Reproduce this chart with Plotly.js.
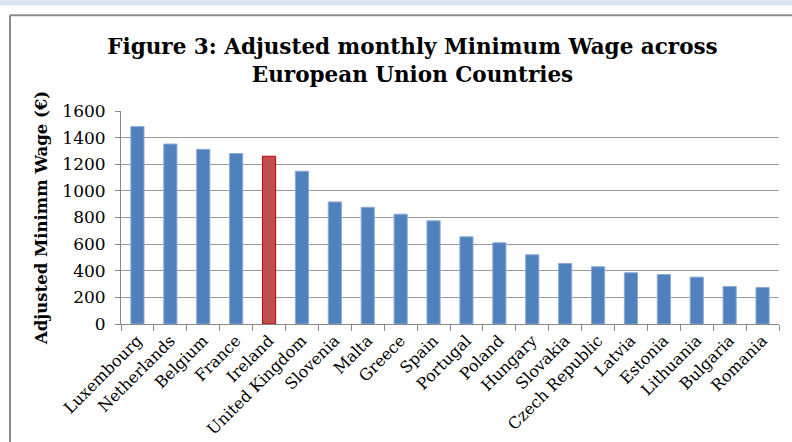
<!DOCTYPE html>
<html>
<head>
<meta charset="utf-8">
<script src="https://cdn.plot.ly/plotly-3.0.1.min.js"></script>
<style>html,body{margin:0;padding:0;background:#fff;}#chart{width:792px;height:442px;}</style>
</head>
<body>
<div id="chart"></div>
<script>
const countries = ["Luxembourg","Netherlands","Belgium","France","Ireland","United Kingdom","Slovenia","Malta","Greece","Spain","Portugal","Poland","Hungary","Slovakia","Czech Republic","Latvia","Estonia","Lithuania","Bulgaria","Romania"];
const wages = [1483,1352,1312,1280,1260,1148,917,877,825,775,655,610,520,455,430,385,372,352,282,275];
const highlight = "Ireland";
const yTicks = [0,200,400,600,800,1000,1200,1400,1600];

const fillColors = countries.map(c => c === highlight ? "#C0504D" : "#4F81BD");
const lineColors = countries.map(c => c === highlight ? "#C00000" : "#8EAADB");

const L = 121, R = 779;
const px = v => (v - L) / (R - L);
const T = 111, H = 213.5;
const py = v => 1 + (T - v) / H;

const trace = {
  type: "bar",
  x: countries,
  y: wages,
  marker: {color: fillColors, line: {color: lineColors, width: 1}},
  hoverinfo: "x+y"
};

const layout = {
  width: 792, height: 442,
  margin: {l: 121, r: 13, t: 111, b: 118, pad: 0},
  paper_bgcolor: "#ffffff",
  plot_bgcolor: "#ffffff",
  bargap: 0.6,
  showlegend: false,
  font: {family: "DejaVu Serif, serif", color: "#000"},
  title: {
    text: "<b>Figure 3: Adjusted monthly Minimum Wage across<br>European Union Countries</b>",
    font: {family: "DejaVu Serif, serif", size: 21.5, color: "#000"},
    x: 412.5 / 792, xref: "container", xanchor: "center",
    y: 0.878, yref: "container", yanchor: "top"
  },
  xaxis: {
    type: "category",
    tickangle: -45,
    ticks: "outside", ticklen: 6, tickcolor: "#888", tickson: "boundaries",
    showline: true, linecolor: "#888", linewidth: 1,
    showgrid: false,
    tickfont: {family: "DejaVu Serif, serif", size: 16, color: "#000"},
    automargin: false
  },
  yaxis: {
    range: [0, 1600],
    tickvals: yTicks,
    ticks: "outside", ticklen: 5, tickcolor: "#888",
    ticklabelstandoff: 6,
    showline: true, linecolor: "#888", linewidth: 1,
    showgrid: true, gridcolor: "#9a9a9a", gridwidth: 1,
    zeroline: false,
    tickfont: {family: "DejaVu Serif, serif", size: 17, color: "#000"},
    title: {text: "<b>Adjusted Minimm Wage (€)</b>", font: {family: "DejaVu Serif, serif", size: 16.5, color: "#000"}, standoff: 10},
    automargin: false
  },
  shapes: [
    {type: "rect", xref: "paper", yref: "paper", x0: px(-5), x1: px(800), y0: py(0), y1: py(5), fillcolor: "#DBE5F1", line: {width: 0}, layer: "below"},
    {type: "line", xref: "paper", yref: "paper", x0: px(10), x1: px(10), y0: py(15), y1: py(460), line: {color: "#8c8c8c", width: 2}},
    {type: "line", xref: "paper", yref: "paper", x0: px(10), x1: px(800), y0: py(15), y1: py(15), line: {color: "#8c8c8c", width: 2}}
  ]
};

Plotly.newPlot("chart", [trace], layout, {displayModeBar: false, staticPlot: true});
</script>
</body>
</html>
